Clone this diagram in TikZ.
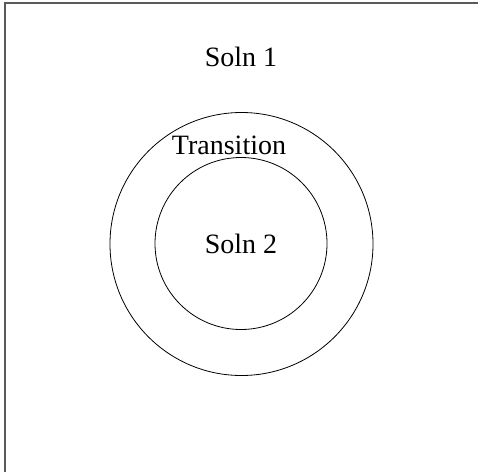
\documentclass[tikz,border=0pt]{standalone}
\usepackage{fontspec}
\setmainfont{Liberation Serif}
\usepackage{xcolor}
\definecolor{framegray}{RGB}{90, 90, 90}

\begin{document}
\begin{tikzpicture}[
    x=1pt, y=-1pt,
    region/.style={circle, draw=black, line width=0.8pt, inner sep=0pt},
    label/.style={font=\fontsize{28}{30}\selectfont, inner sep=0pt},
    frame/.style={draw=framegray, line width=1.4pt}
]
\useasboundingbox (0,0) rectangle (478,471);
\clip (0,0) rectangle (478,471);

% Domain boundary
\draw[frame] (5,3) rectangle (500,500);

% Regions
\node[region, minimum size=263pt] (outer) at (241.5,244) {};
\node[region, minimum size=172pt] (inner) at (241,243.5) {};

% Labels
\node[label] (soln1) at (241,57) {Soln 1};
\node[label] (trans) at (229,145) {Transition};
\node[label] (soln2) at (inner.center) {Soln 2};

\end{tikzpicture}
\end{document}
